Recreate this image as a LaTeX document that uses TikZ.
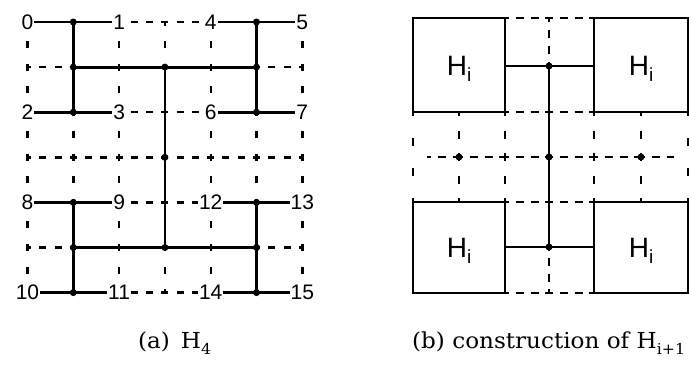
\documentclass[tikz,border=0pt]{standalone}
\usepackage{fontspec}
\setmainfont{Liberation Sans}
\newfontfamily\capfont[FakeStretch=1.05]{DejaVu Serif}
\begin{document}
\begin{tikzpicture}[x=1pt,y=-1pt,
  sol/.style={line width=2.8pt},
  hd/.style={line width=2.4pt,dash pattern=on 7pt off 8.27pt,dash phase=3.5pt},
  vd/.style={line width=2.4pt,dash pattern=on 7pt off 15.55pt,dash phase=3.5pt},
  rhd/.style={line width=2.4pt,dash pattern=on 8pt off 6.8pt,dash phase=4pt},
  rvd/.style={line width=2.4pt,dash pattern=on 8pt off 14.5pt,dash phase=4pt},
  edgevd/.style={line width=2.4pt,dash pattern=on 8pt off 22pt,dash phase=4pt},
  dot/.style={circle,fill=black,inner sep=0pt,minimum size=7pt},
  lab/.style={fill=white,inner sep=1pt,font=\fontsize{21}{21}\selectfont},
  hlab/.style={inner sep=0pt,anchor=base,font=\fontsize{28}{28}\selectfont},
  captext/.style={inner sep=0pt,anchor=base west,font=\capfont\fontsize{22}{26}\selectfont}]
\useasboundingbox (0,0) rectangle (689,367);
% ---------- left grid coordinates
\foreach \i in {0,...,6}{\foreach \j in {0,...,6}{
  \coordinate (L\i\j) at ({27.5+45.8*\i},{22+45.1*\j});}}
% dashed horizontals
\foreach \a/\b/\j in {2/3/0,3/4/0, 0/1/1,5/6/1, 2/3/2,3/4/2,
   0/1/3,1/2/3,2/3/3,3/4/3,4/5/3,5/6/3, 2/3/4,3/4/4, 0/1/5,5/6/5, 2/3/6,3/4/6}
  {\draw[hd] (L\a\j) -- (L\b\j);}
% dashed verticals
\foreach \i in {0,2,4,6}{\foreach \a/\b in {0/1,1/2,2/3,3/4,4/5,5/6}
  {\draw[vd] (L\i\a) -- (L\i\b);}}
\foreach \i/\a/\b in {1/2/3,1/3/4,5/2/3,5/3/4,3/0/1,3/5/6}
  {\draw[vd] (L\i\a) -- (L\i\b);}
% solid lines
\draw[sol] (L00) -- (L20);
\draw[sol] (L40) -- (L60);
\draw[sol] (L02) -- (L22);
\draw[sol] (L42) -- (L62);
\draw[sol] (L04) -- (L24);
\draw[sol] (L44) -- (L64);
\draw[sol] (L06) -- (L26);
\draw[sol] (L46) -- (L66);
\draw[sol] (L11) -- (L51);
\draw[sol] (L15) -- (L55);
\draw[sol] (L10) -- (L12);
\draw[sol] (L14) -- (L16);
\draw[sol] (L50) -- (L52);
\draw[sol] (L54) -- (L56);
\draw[sol] (L31) -- (L35);
% dots
\foreach \p in {10,11,12,50,51,52,31,33,35,14,15,16,54,55,56}
  {\node[dot] (dL\p) at (L\p) {};}
% labels
\node[lab] (n0) at (L00) {0};
\node[lab] (n1) at (L20) {1};
\node[lab] (n4) at (L40) {4};
\node[lab] (n5) at (L60) {5};
\node[lab] (n2) at (L02) {2};
\node[lab] (n3) at (L22) {3};
\node[lab] (n6) at (L42) {6};
\node[lab] (n7) at (L62) {7};
\node[lab] (n8) at (L04) {8};
\node[lab] (n9) at (L24) {9};
\node[lab] (n12) at (L44) {12};
\node[lab] (n13) at (L64) {13};
\node[lab] (n10) at (L06) {10};
\node[lab] (n11) at (L26) {11};
\node[lab] (n14) at (L46) {14};
\node[lab] (n15) at (L66) {15};
% ---------- right figure coordinates
\foreach \i/\x in {0/413,1/459,2/505,3/549,4/594,5/641,6/688}{
  \foreach \j/\y in {0/18,1/66,2/112,3/157,4/202,5/247,6/293}{
    \coordinate (R\i\j) at (\x,\y);}}
\coordinate (Rbl) at (427,157);
\coordinate (Rbr) at (674,157);
% dashed parts
\draw[rhd] (R20) -- (R30);
\draw[rhd] (R30) -- (R40);
\draw[rhd] (R26) -- (R36);
\draw[rhd] (R36) -- (R46);
\draw[line width=2.4pt,dash pattern=on 8pt off 8pt,dash phase=4pt] (R30) -- (R31);
\draw[line width=2.4pt,dash pattern=on 8pt off 7.3pt,dash phase=4pt] (R35) -- (R36);
\draw[rhd] (R22) -- (R32);
\draw[rhd] (R32) -- (R42);
\draw[rhd] (R24) -- (R34);
\draw[rhd] (R34) -- (R44);
\draw[rhd] (Rbl) -- (R13);
\draw[rhd] (R13) -- (R23);
\draw[rhd] (R23) -- (R33);
\draw[rhd] (R33) -- (R43);
\draw[rhd] (R43) -- (R53);
\draw[rhd] (R53) -- (Rbr);
\foreach \i in {1,2,4,5}{
  \draw[rvd] (R\i2) -- (R\i3);
  \draw[rvd] (R\i3) -- (R\i4);}
\draw[edgevd] (R02) -- (R04);
\draw[edgevd] (R62) -- (R64);
% boxes and solid lines
\draw[sol] (R00) rectangle (R22);
\draw[sol] (R40) rectangle (R62);
\draw[sol] (R04) rectangle (R26);
\draw[sol] (R44) rectangle (R66);
\draw[sol] (R21) -- (R41);
\draw[sol] (R25) -- (R45);
\draw[sol] (R31) -- (R35);
\foreach \p in {31,33,35,13,53}
  {\node[dot] (dR\p) at (R\p) {};}
% H_i labels
\node[hlab] (h1) at (459,75) {H\raisebox{-0.22em}{\fontsize{19}{19}\selectfont i}};
\node[hlab] (h2) at (641,75) {H\raisebox{-0.22em}{\fontsize{19}{19}\selectfont i}};
\node[hlab] (h3) at (459,257) {H\raisebox{-0.22em}{\fontsize{19}{19}\selectfont i}};
\node[hlab] (h4) at (641,257) {H\raisebox{-0.22em}{\fontsize{19}{19}\selectfont i}};
% captions
\node[captext] (capa) at (138,348) {(a)\hspace{0.5em}H\raisebox{-0.3em}{\fontsize{15}{15}\selectfont 4}};
\node[captext] (capb) at (412,348) {(b) construction of H\raisebox{-0.3em}{\fontsize{15}{15}\selectfont i+1}};
\end{tikzpicture}
\end{document}
